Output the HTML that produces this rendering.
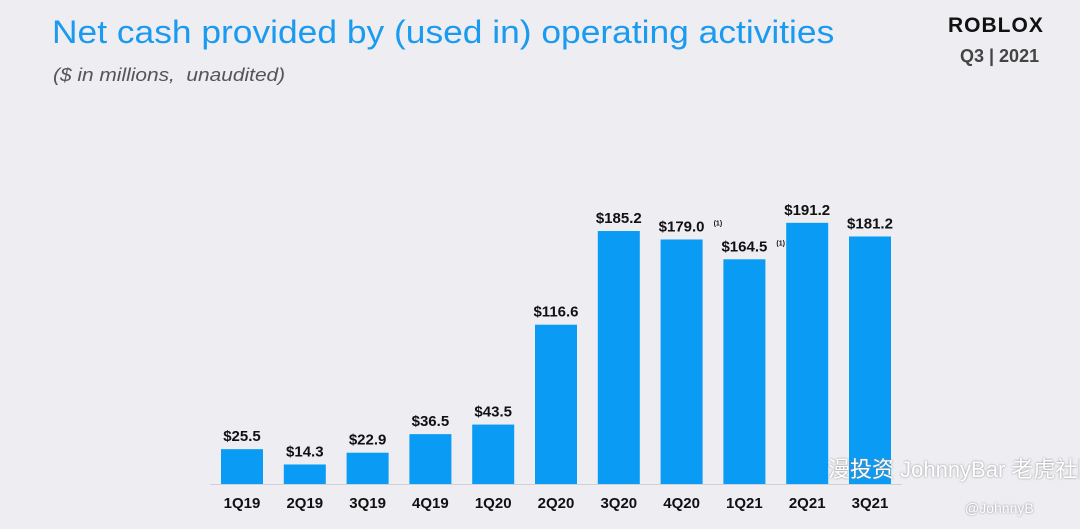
<!DOCTYPE html>
<html><head><meta charset="utf-8"><style>
body{margin:0;width:1080px;height:529px;background:#ededf2;overflow:hidden;font-family:"Liberation Sans",sans-serif;position:relative}
.t{position:absolute;left:52px;top:14px;font-size:32px;color:#1a9bf0;white-space:nowrap;transform:scaleX(1.105);transform-origin:0 0}
.s{position:absolute;left:53px;top:65px;font-size:18px;font-style:italic;color:#555;white-space:nowrap;transform:scaleX(1.16);transform-origin:0 0}
.logo{position:absolute;left:948px;top:14px;font-size:21px;font-weight:900;letter-spacing:1px;color:#111}
.q{position:absolute;left:960px;top:46px;font-size:18px;font-weight:bold;color:#444}
.wm{position:absolute;left:828px;top:452px;font-size:22px;color:#fff;white-space:nowrap;font-family:"Liberation Sans","Noto Sans CJK SC",sans-serif;text-shadow:0 0 2px #888}
.wm2{position:absolute;left:965px;top:500px;font-size:14px;color:#fff;text-shadow:0 0 2px #888}
</style></head><body>
<div class="t">Net cash provided by (used in) operating activities</div>
<div class="s">($ in millions,&nbsp; unaudited)</div>
<div class="logo">ROBLOX</div>
<div class="q">Q3 | 2021</div>
<svg id="c" width="1080" height="529" style="position:absolute;left:0;top:0"></svg>
<div class="wm">漫投资 JohnnyBar 老虎社区</div>
<div class="wm2">@JohnnyB</div>
<script>
const categories=["1Q19","2Q19","3Q19","4Q19","1Q20","2Q20","3Q20","4Q20","1Q21","2Q21","3Q21"];
const values=[25.5,14.3,22.9,36.5,43.5,116.6,185.2,179.0,164.5,191.2,181.2];
const valueLabels=["$25.5","$14.3","$22.9","$36.5","$43.5","$116.6","$185.2","$179.0","$164.5","$191.2","$181.2"];
const footnoted=[false,false,false,false,false,false,false,true,true,false,false];
const svg=document.getElementById('c');const NS="http://www.w3.org/2000/svg";
const base=484,k=1.366,x0=242,step=62.8,bw=42;
const y=v=>base-v*k, x=i=>x0+i*step;
function mk(t,a){const e=document.createElementNS(NS,t);for(const q in a)e.setAttribute(q,a[q]);svg.appendChild(e);return e;}
const ax=mk('line',{x1:210,x2:902,y1:base+0.5,y2:base+0.5,stroke:'#d0d0d8','stroke-width':1});


categories.forEach((c,i)=>{
 const r=mk('rect',{x:x(i)-bw/2,y:y(values[i]),width:bw,height:values[i]*k,fill:'#0a9bf5'});
 
 
 const v=mk('text',{x:x(i),y:y(values[i])-8,'text-anchor':'middle','font-size':15,'font-weight':'bold',fill:'#111'});
 v.textContent=valueLabels[i];
 
 
 if(footnoted[i]){const f=mk('text',{x:x(i)+32,y:y(values[i])-14,'font-size':7,'font-weight':'bold',fill:'#111'});f.textContent='(1)';
 
 }
 const l=mk('text',{x:x(i),y:508,'text-anchor':'middle','font-size':15,'font-weight':'bold',fill:'#111'});
 l.textContent=c;
 
 
});
</script>
</body></html>
